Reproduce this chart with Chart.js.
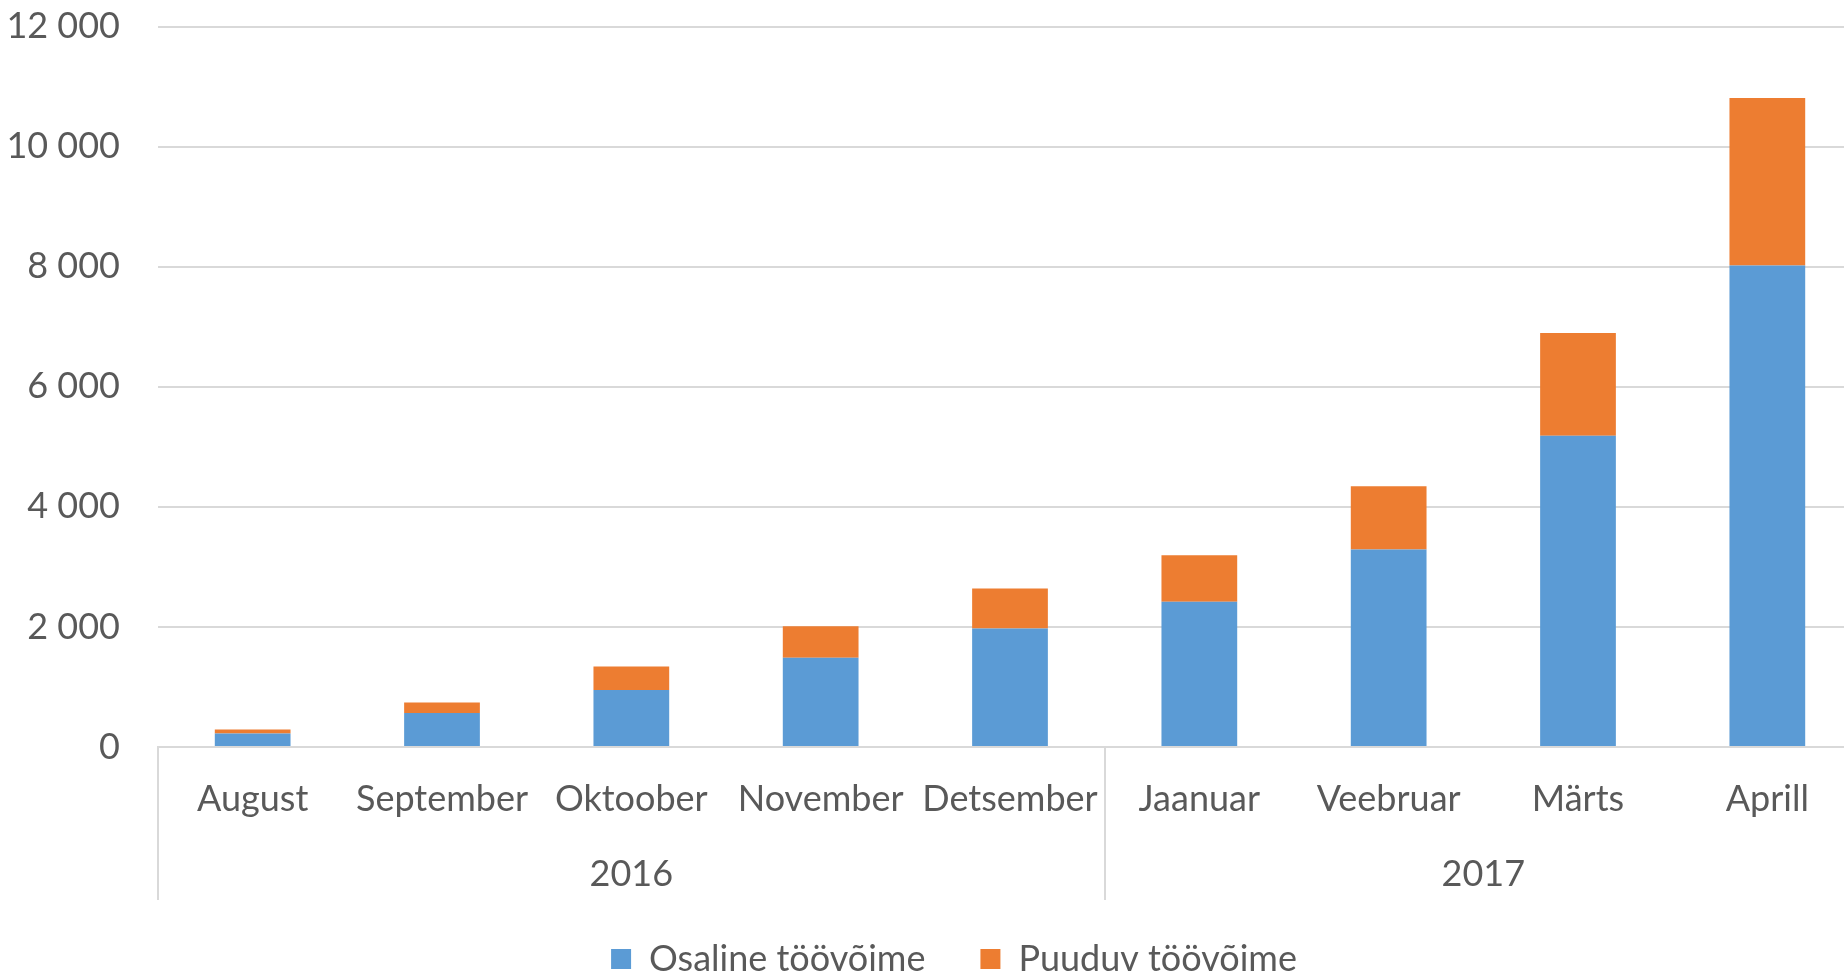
<!DOCTYPE html>
<html>
<head>
<meta charset="utf-8">
<script src="https://cdn.jsdelivr.net/npm/chart.js@4"></script>
<style>
    html, body { margin: 0; padding: 0; overflow: hidden; background: #fff; width: 1844px; height: 980px; }
    #tooChart { display: block; position: absolute; left: 0; top: -33px; }
</style>
</head>
<body>
<canvas id="tooChart" width="1908" height="1020"></canvas>
<script>
// Kuud ja aastad
const months = ['August', 'September', 'Oktoober', 'November', 'Detsember', 'Jaanuar', 'Veebruar', 'Märts', 'Aprill'];
const years = ['2016', '2017'];
const yearMonthCount = [5, 4];

// Väärtused
const osaline = [225, 566, 950, 1487, 1975, 2420, 3290, 5185, 8020];
const puuduv = [65, 174, 390, 523, 665, 775, 1055, 1710, 2790];

const yTicks = [0, 2000, 4000, 6000, 8000, 10000, 12000];

const textColor = '#595959';
const gridColor = '#D9D9D9';
const fontFamily = 'Lato, "Noto Sans", sans-serif';

function formatNumber(v) {
    return String(v).replace(/\B(?=(\d{3})+(?!\d))/g, ' ');
}

// Aastate rida x-telje all
const yearAxisPlugin = {
    id: 'yearAxis',
    afterLayout: function(chart) {
        // legend keskele nagu Excelis
        chart.legend.left += 23;
        chart.legend.right += 23;
    },
    afterDraw: function(chart) {
        const ctx = chart.ctx;
        const xScale = chart.scales.x;
        const area = chart.chartArea;
        const lineBottom = area.bottom + 153;
        ctx.save();
        ctx.strokeStyle = gridColor;
        ctx.lineWidth = 2;
        ctx.fillStyle = textColor;
        ctx.font = '36px ' + fontFamily;
        ctx.textAlign = 'center';
        ctx.textBaseline = 'middle';

        let start = 0;
        const half = (xScale.getPixelForValue(1) - xScale.getPixelForValue(0)) / 2;
        for (let i = 0; i < years.length; i++) {
            const end = start + yearMonthCount[i] - 1;
            const left = xScale.getPixelForValue(start) - half;
            const right = xScale.getPixelForValue(end) + half;
            ctx.beginPath();
            ctx.moveTo(Math.round(left), area.bottom);
            ctx.lineTo(Math.round(left), lineBottom);
            ctx.stroke();
            ctx.fillText(years[i], (left + right) / 2, area.bottom + 127);
            start = end + 1;
        }
        ctx.restore();
    }
};

const ctx = document.getElementById('tooChart').getContext('2d');
new Chart(ctx, {
    type: 'bar',
    data: {
        labels: months,
        datasets: [{
            label: 'Osaline töövõime',
            data: osaline,
            backgroundColor: '#5B9BD5',
            borderWidth: 0
        }, {
            label: 'Puuduv töövõime',
            data: puuduv,
            backgroundColor: '#ED7D31',
            borderWidth: 0
        }]
    },
    options: {
        responsive: false,
        animation: false,
        devicePixelRatio: 1,
        layout: {
            padding: { left: 0, right: 46, top: 26, bottom: 0 }
        },
        plugins: {
            tooltip: { enabled: false },
            legend: {
                position: 'bottom',
                labels: {
                    color: textColor,
                    font: { family: fontFamily, size: 36 },
                    boxWidth: 20,
                    boxHeight: 20,
                    padding: 55
                }
            }
        },
        datasets: {
            bar: { categoryPercentage: 1, barPercentage: 0.4 }
        },
        scales: {
            x: {
                stacked: true,
                grid: { display: false, drawTicks: false },
                border: { display: true, color: gridColor, width: 2 },
                ticks: {
                    color: textColor,
                    font: { family: fontFamily, size: 36 },
                    padding: 31,
                    maxRotation: 0,
                    autoSkip: false
                },
                afterFit: function(scale) { scale.height = 139; }
            },
            y: {
                stacked: true,
                min: 0,
                max: 12000,
                afterBuildTicks: function(scale) {
                    scale.ticks = yTicks.map(function(v) { return { value: v }; });
                },
                grid: { color: gridColor, lineWidth: 2, drawTicks: false },
                border: { display: false },
                ticks: {
                    color: textColor,
                    font: { family: fontFamily, size: 36 },
                    padding: 38,
                    callback: function(v) { return formatNumber(v); }
                },
                afterFit: function(scale) { scale.width = 158; }
            }
        }
    },
    plugins: [yearAxisPlugin]
});
</script>
</body>
</html>
